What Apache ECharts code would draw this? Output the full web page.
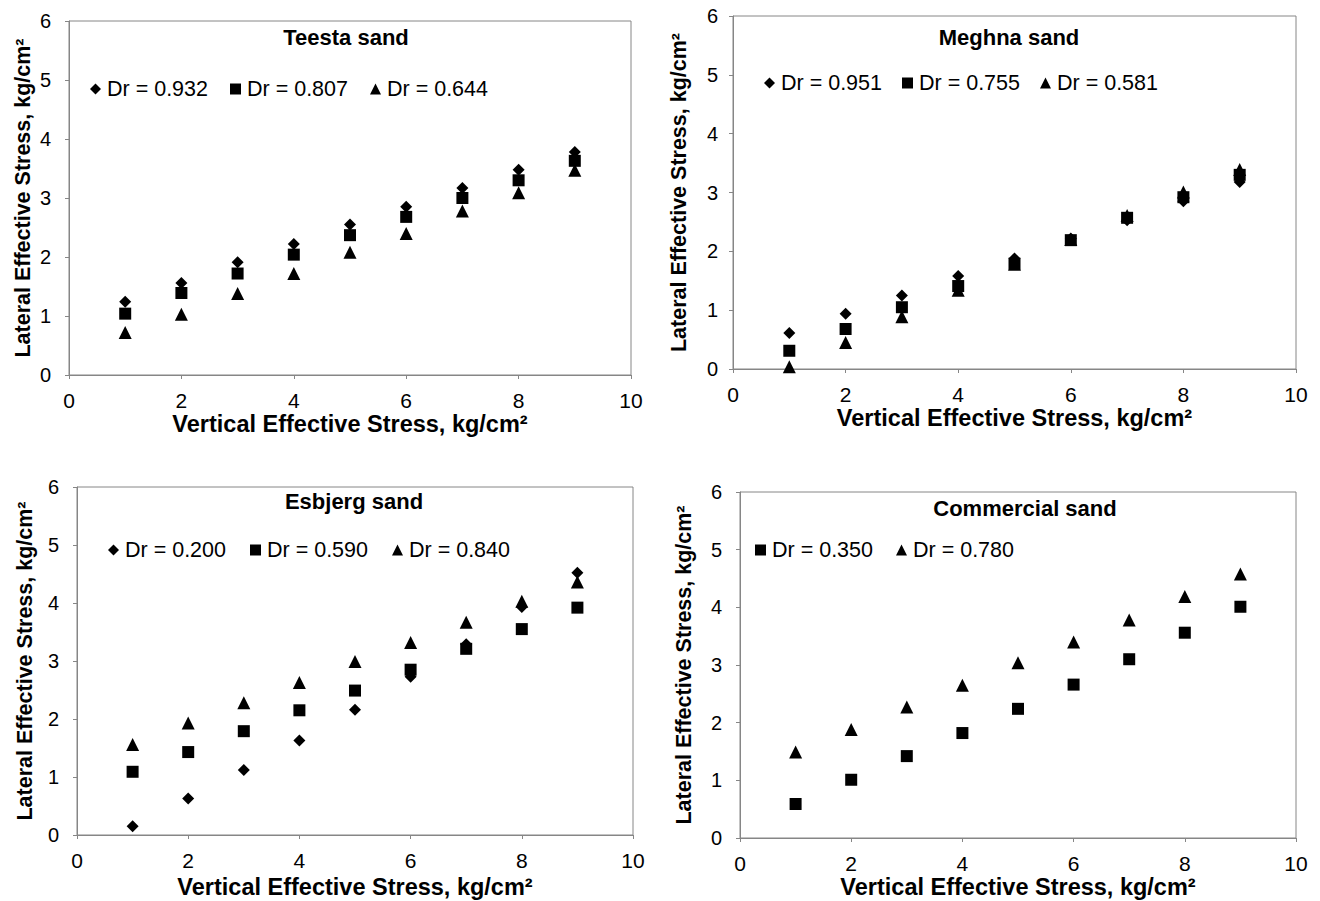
<!DOCTYPE html>
<html>
<head>
<meta charset="utf-8">
<title>Lateral vs vertical effective stress</title>
<script src="https://cdn.jsdelivr.net/npm/echarts@6/dist/echarts.min.js"></script>
<style>
  html, body { margin: 0; padding: 0; background: #fff; }
  #chart { width: 1320px; height: 901px; }
</style>
</head>
<body>
<div id="chart"></div>
<script>
// vertical effective stress, kg/cm2 (same for every test)
const stressX = [1, 2, 3, 4, 5, 6, 7, 8, 9]

// Teesta sand
const teesta932 = [1.24, 1.56, 1.91, 2.22, 2.55, 2.85, 3.17, 3.48, 3.78]
const teesta807 = [1.04, 1.39, 1.72, 2.04, 2.37, 2.68, 3.00, 3.30, 3.63]
const teesta644 = [0.72, 1.03, 1.38, 1.72, 2.08, 2.40, 2.78, 3.09, 3.47]

// Meghna sand
const meghna951 = [0.61, 0.94, 1.25, 1.58, 1.88, 2.22, 2.53, 2.85, 3.18]
const meghna755 = [0.31, 0.68, 1.05, 1.41, 1.79, 2.19, 2.57, 2.92, 3.30]
const meghna581 = [0.04, 0.45, 0.89, 1.34, 1.78, 2.20, 2.61, 3.01, 3.39]

// Esbjerg sand
const esbjerg200 = [0.15, 0.63, 1.12, 1.63, 2.16, 2.73, 3.29, 3.93, 4.52]
const esbjerg590 = [1.09, 1.43, 1.79, 2.15, 2.49, 2.85, 3.21, 3.55, 3.92]
const esbjerg840 = [1.56, 1.93, 2.28, 2.63, 2.99, 3.32, 3.67, 4.03, 4.36]

// Commercial sand
const commercial350 = [0.59, 1.01, 1.42, 1.82, 2.24, 2.66, 3.10, 3.56, 4.01]
const commercial780 = [1.49, 1.88, 2.27, 2.65, 3.04, 3.40, 3.78, 4.19, 4.58]

const panelTitles = ['Teesta sand', 'Meghna sand', 'Esbjerg sand', 'Commercial sand']
const xTicks = { min: 0, max: 10, interval: 2 }
const yTicks = { min: 0, max: 6, interval: 1 }
const xName = 'Vertical Effective Stress, kg/cm²'
const yName = 'Lateral Effective Stress, kg/cm²'

const FONT = "'Liberation Sans', Arial, sans-serif"
const GREY = '#868686'

// plot areas, in px
const grids = [
  { left: 69, top: 21, width: 562, height: 354 },
  { left: 733, top: 16, width: 563, height: 353 },
  { left: 77, top: 487, width: 556, height: 348 },
  { left: 740, top: 492, width: 556, height: 346 }
]
const xNameGap = [31, 34, 40, 36]
const yNameGap = [35, 43, 41, 45]
const yLabelMargin = [18, 15, 18, 18]

const pair = (ys) => ys.map((y, i) => [stressX[i], y])

const panels = [
  [['Dr = 0.932', 'diamond', teesta932], ['Dr = 0.807', 'rect', teesta807], ['Dr = 0.644', 'triangle', teesta644]],
  [['Dr = 0.951', 'diamond', meghna951], ['Dr = 0.755', 'rect', meghna755], ['Dr = 0.581', 'triangle', meghna581]],
  [['Dr = 0.200', 'diamond', esbjerg200], ['Dr = 0.590', 'rect', esbjerg590], ['Dr = 0.840', 'triangle', esbjerg840]],
  [['Dr = 0.350', 'rect', commercial350], ['Dr = 0.780', 'triangle', commercial780]]
]

const symbolSizes = { diamond: 12, rect: 12, triangle: 13 }

// legend / title placement
const legendPos = [
  { left: 90, top: 78, itemGap: 22 },
  { left: 764, top: 72, itemGap: 20 },
  { left: 108, top: 539, itemGap: 24 },
  { left: 755, top: 539, itemGap: 23 }
]
const titlePos = [[346, 26], [1009, 26], [354, 490], [1025, 497]]

const chart = echarts.init(document.getElementById('chart'), null, { renderer: 'svg' })

const series = []
panels.forEach((list, g) => {
  list.forEach(([name, symbol, ys]) => {
    series.push({
      name,
      type: 'scatter',
      xAxisIndex: g,
      yAxisIndex: g,
      symbol,
      symbolSize: symbolSizes[symbol],
      itemStyle: { color: '#000', opacity: 1 },
      emphasis: { disabled: true },
      data: pair(ys)
    })
  })
})

const option = {
  backgroundColor: '#fff',
  animation: false,
  textStyle: { fontFamily: FONT },
  title: panelTitles.map((t, i) => ({
    text: t,
    left: titlePos[i][0],
    top: titlePos[i][1],
    textAlign: 'center',
    padding: 0,
    textStyle: { fontFamily: FONT, fontSize: 22, fontWeight: 'bold', color: '#000' }
  })),
  legend: panels.map((list, i) => ({
    data: list.map(s => s[0]),
    left: legendPos[i].left,
    top: legendPos[i].top,
    itemGap: legendPos[i].itemGap,
    itemWidth: 11,
    itemHeight: 11,
    padding: 0,
    selectedMode: false,
    itemStyle: { opacity: 1 },
    textStyle: { fontFamily: FONT, fontSize: 21.5, color: '#000', padding: [0, 0, 0, 1] }
  })),
  grid: grids.map(g => ({ ...g, show: true, borderColor: GREY, borderWidth: 1, containLabel: false })),
  xAxis: grids.map((g, i) => ({
    type: 'value',
    gridIndex: i,
    ...xTicks,
    name: xName,
    nameLocation: 'middle',
    nameGap: xNameGap[i],
    nameTextStyle: { fontFamily: FONT, fontSize: 23.5, fontWeight: 'bold', color: '#000' },
    axisLine: { show: true, lineStyle: { color: GREY, width: 1 } },
    axisTick: { show: true, length: 4, lineStyle: { color: GREY } },
    axisLabel: { fontFamily: FONT, fontSize: 21, color: '#000', margin: 15 },
    splitLine: { show: false }
  })),
  yAxis: grids.map((g, i) => ({
    type: 'value',
    gridIndex: i,
    ...yTicks,
    name: yName,
    nameLocation: 'middle',
    nameGap: yNameGap[i],
    nameTextStyle: { fontFamily: FONT, fontSize: 21.5, fontWeight: 'bold', color: '#000' },
    axisLine: { show: true, lineStyle: { color: GREY, width: 1 } },
    axisTick: { show: true, length: 4, lineStyle: { color: GREY } },
    axisLabel: { fontFamily: FONT, fontSize: 20, color: '#000', margin: yLabelMargin[i] },
    splitLine: { show: false }
  })),
  series
}

option && chart.setOption(option)
</script>
</body>
</html>
